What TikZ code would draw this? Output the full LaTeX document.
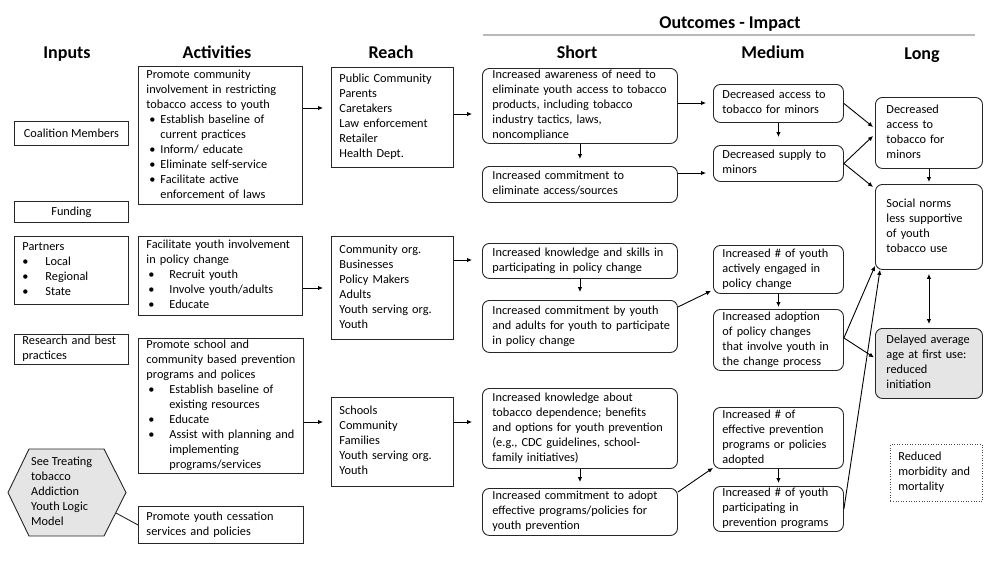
\documentclass[tikz,border=0pt]{standalone}
\usepackage{fontspec}
\setmainfont{Carlito}
\usetikzlibrary{arrows.meta,calc}
\newcommand{\lns}[1]{\noindent\begin{tabular}{@{}l@{}}#1\end{tabular}}
\newcommand{\bul}[2]{\hspace*{#1}\makebox[#2][l]{\textbullet}}
\newcommand{\ind}[1]{\hspace*{#1}}
\begin{document}
\begin{tikzpicture}[x=1pt,y=-1pt,
  font=\fontsize{12.3}{15}\selectfont,
  base/.style={draw=black!85, line width=0.9pt, anchor=north west, inner ysep=0pt, align=left},
  sq/.style={base},
  rd/.style={base, rounded corners=7pt},
  hdr/.style={font=\fontsize{18}{20}\selectfont\bfseries, anchor=base, inner sep=0pt},
  arr/.style={draw=black, line width=0.9pt, -{Latex[length=5pt,width=4.5pt]}},
  darr/.style={draw=black, line width=0.9pt, {Latex[length=5pt,width=4.5pt]}-{Latex[length=5pt,width=4.5pt]}},
  link/.style={draw=black!85, line width=0.9pt}
]
\useasboundingbox (0,0) rectangle (1000,563);

% headers
\node[hdr] (hOut) at (730,28) {Outcomes - Impact};
\coordinate (lnA) at (483,35);
\coordinate (lnB) at (975,35);
\draw[gray!55, line width=1.4pt] (lnA) -- (lnB);
\node[hdr] (hIn) at (67,58) {Inputs};
\node[hdr] (hAct) at (217,58) {Activities};
\node[hdr] (hReach) at (391,58) {Reach};
\node[hdr] (hShort) at (577,58) {Short};
\node[hdr] (hMed) at (773,58) {Medium};
\node[hdr] (hLong) at (922,59) {Long};

% inputs
\node[sq, align=center, minimum width=114pt, minimum height=24pt, inner xsep=2pt] (coal) at (14,121) {Coalition Members};
\node[sq, align=center, minimum width=114pt, minimum height=21pt, inner xsep=2pt] (fund) at (14,201) {Funding};
\node[sq, minimum width=114pt, minimum height=68pt, text width=98pt, inner xsep=8pt] (part) at (14,236)
  {\lns{Partners\\ \bul{0pt}{23pt}Local\\ \bul{0pt}{23pt}Regional\\ \bul{0pt}{23pt}State}};
\node[sq, minimum width=114pt, minimum height=30pt, text width=98pt, inner xsep=8pt] (res) at (14,334)
  {\lns{Research and best\\practices}};
% hexagon
\coordinate (hx1) at (8,492.5);
\coordinate (hx2) at (29,449);
\coordinate (hx3) at (104,449);
\coordinate (hx4) at (126,492.5);
\coordinate (hx5) at (104,536);
\coordinate (hx6) at (29,536);
\coordinate (hexE) at (116,513);
\draw[draw=black!85, line width=0.9pt, fill=gray!20] (hx1) -- (hx2) -- (hx3) -- (hx4) -- (hx5) -- (hx6) -- cycle;
\node[anchor=west, inner sep=0pt, align=left] (hex) at (31,492.5)
  {\lns{See Treating\\tobacco\\Addiction\\Youth Logic\\Model}};

% activities
\node[sq, minimum width=164pt, minimum height=138pt, text width=148pt, inner xsep=8pt] (A1) at (138,66)
  {\lns{Promote community\\involvement in restricting\\tobacco access to youth\\
  \bul{3pt}{11pt}Establish baseline of\\ \ind{14pt}current practices\\
  \bul{3pt}{11pt}Inform/ educate\\ \bul{3pt}{11pt}Eliminate self-service\\
  \bul{3pt}{11pt}Facilitate active\\ \ind{14pt}enforcement of laws}};
\node[sq, minimum width=164pt, minimum height=79pt, text width=148pt, inner xsep=8pt] (A2) at (138,236)
  {\lns{Facilitate youth involvement\\in policy change\\
  \bul{2pt}{21pt}Recruit youth\\ \bul{2pt}{21pt}Involve youth/adults\\ \bul{2pt}{21pt}Educate}};
\node[sq, minimum width=165pt, minimum height=135pt, text width=149pt, inner xsep=8pt] (A3) at (138,338)
  {\lns{Promote school and\\community based prevention\\programs and polices\\
  \bul{2pt}{21pt}Establish baseline of\\ \ind{23pt}existing resources\\
  \bul{2pt}{21pt}Educate\\ \bul{2pt}{21pt}Assist with planning and\\
  \ind{23pt}implementing\\ \ind{23pt}programs/services}};
\node[sq, minimum width=165pt, minimum height=37pt, text width=149pt, inner xsep=8pt] (A4) at (138,506)
  {\lns{Promote youth cessation\\services and policies}};

% reach
\node[sq, minimum width=122pt, minimum height=100pt, text width=106pt, inner xsep=8pt] (R1) at (331,67)
  {\lns{Public Community\\Parents\\Caretakers\\Law enforcement\\Retailer\\Health Dept.}};
\node[sq, minimum width=122pt, minimum height=103pt, text width=106pt, inner xsep=8pt] (R2) at (331,236)
  {\lns{Community org.\\Businesses\\Policy Makers\\Adults\\Youth serving org.\\Youth}};
\node[sq, minimum width=122pt, minimum height=89pt, text width=106pt, inner xsep=8pt] (R3) at (331,397)
  {\lns{Schools\\Community\\Families\\Youth serving org.\\Youth}};

% short
\node[rd, minimum width=195pt, minimum height=75pt, text width=175pt, inner xsep=10pt] (S1) at (482,68)
  {\lns{Increased awareness of need to\\eliminate youth access to tobacco\\products, including tobacco\\industry tactics, laws,\\noncompliance}};
\node[rd, minimum width=195pt, minimum height=36pt, text width=175pt, inner xsep=10pt] (S2) at (482,166)
  {\lns{Increased commitment to\\eliminate access/sources}};
\node[rd, minimum width=195pt, minimum height=35pt, text width=175pt, inner xsep=10pt] (S3) at (482,243)
  {\lns{Increased knowledge and skills in\\participating in policy change}};
\node[rd, minimum width=195pt, minimum height=52pt, text width=175pt, inner xsep=10pt] (S4) at (482,300)
  {\lns{Increased commitment by youth\\and adults for youth to participate\\in policy change}};
\node[rd, minimum width=195pt, minimum height=80pt, text width=175pt, inner xsep=10pt] (S5) at (482,388)
  {\lns{Increased knowledge about\\tobacco dependence; benefits\\and options for youth prevention\\(e.g., CDC guidelines, school-\\family initiatives)}};
\node[rd, minimum width=195pt, minimum height=47pt, text width=175pt, inner xsep=10pt] (S6) at (482,488)
  {\lns{Increased commitment to adopt\\effective programs/policies for\\youth prevention}};

% medium
\node[rd, minimum width=130pt, minimum height=38pt, text width=112pt, inner xsep=9pt] (M1) at (713,84)
  {\lns{Decreased access to\\tobacco for minors}};
\node[rd, minimum width=130pt, minimum height=36pt, text width=112pt, inner xsep=9pt] (M2) at (713,145)
  {\lns{Decreased supply to\\minors}};
\node[rd, minimum width=130pt, minimum height=48pt, text width=112pt, inner xsep=9pt] (M3) at (713,245)
  {\lns{Increased \# of youth\\actively engaged in\\policy change}};
\node[rd, minimum width=130pt, minimum height=61pt, text width=112pt, inner xsep=9pt] (M4) at (713,309)
  {\lns{Increased adoption\\of policy changes\\that involve youth in\\the change process}};
\node[rd, minimum width=130pt, minimum height=61pt, text width=112pt, inner xsep=9pt] (M5) at (713,407)
  {\lns{Increased \# of\\effective prevention\\programs or policies\\adopted}};
\node[rd, minimum width=130pt, minimum height=45pt, text width=112pt, inner xsep=9pt] (M6) at (713,486)
  {\lns{Increased \# of youth\\participating in\\prevention programs}};

% long
\node[rd, minimum width=107pt, minimum height=71pt, text width=85pt, inner xsep=11pt] (L1) at (875,97)
  {\lns{Decreased\\access to\\tobacco for\\minors}};
\node[rd, minimum width=107pt, minimum height=85pt, text width=85pt, inner xsep=11pt] (L2) at (875,184)
  {\lns{Social norms\\less supportive\\of youth\\tobacco use}};
\node[rd, fill=gray!20, minimum width=107pt, minimum height=70pt, text width=85pt, inner xsep=11pt] (L3) at (875,328)
  {\lns{Delayed average\\age at first use:\\reduced\\initiation}};
\node[base, draw=black!70, line width=0.6pt, dotted, minimum width=92pt, minimum height=57pt, text width=76pt, inner xsep=8pt] (L4) at (890,444)
  {\lns{Reduced\\morbidity and\\mortality}};

% connectors
\draw[link] (hexE) -- (A4.west);
\draw[arr, shorten >=8pt] (A1.east |- 0,108) -- (R1.west |- 0,108);
\draw[arr, shorten >=8pt] (A2.east |- 0,288) -- (R2.west |- 0,288);
\draw[arr, shorten >=8pt] (A3.east |- 0,422) -- (R3.west |- 0,422);
\draw[arr, shorten >=10pt] (R1.east |- 0,114) -- (S1.west |- 0,114);
\draw[arr, shorten >=10pt] (R2.east |- 0,260) -- (S3.west |- 0,260);
\draw[arr, shorten >=10pt] (R3.east |- 0,422) -- (S5.west |- 0,422);
\draw[arr, shorten >=7pt] (S1.south) -- (S2.north);
\draw[arr, shorten >=8pt] (S3.south) -- (S4.north);
\draw[arr, shorten >=6pt] (S5.south) -- (S6.north);
\draw[arr, shorten >=7pt] (S1.east |- 0,103) -- (M1.west |- 0,103);
\draw[arr, shorten >=7pt] (S2.east |- 0,173) -- (M2.west |- 0,173);
\draw[arr] ($(S4.north east)+(0,7)$) -- ($(M3.south west)+(-2,-3)$);
\draw[arr] ($(S6.north east)+(0,4)$) -- ($(M5.south west)+(0,-1)$);
\draw[arr, shorten >=8pt] (M1.south) -- (M2.north);
\draw[arr, shorten >=2pt] (M3.south) -- (M4.north);
\draw[arr, shorten >=3pt] (M5.south) -- (M6.north);
\draw[arr] (M1.east) -- ($(L1.west)+(-2,-6)$);
\draw[arr] (M2.east) -- ($(L1.west)+(-2,3)$);
\draw[arr] (M2.east) -- ($(L2.north west)+(-2,3)$);
\draw[arr, shorten >=2pt] (L1.south) -- (L2.north);
\draw[darr, shorten >=4pt, shorten <=4pt] (L2.south) -- (L3.north);
\draw[arr] ($(M4.east)+(0,-2)$) -- ($(L2.south west)+(0,-4)$);
\draw[arr] ($(M4.east)+(0,-2)$) -- ($(L3.west)+(-1,-6)$);
\draw[arr] (M6.east) -- ($(L2.south west)+(5,0)$);
\end{tikzpicture}
\end{document}
